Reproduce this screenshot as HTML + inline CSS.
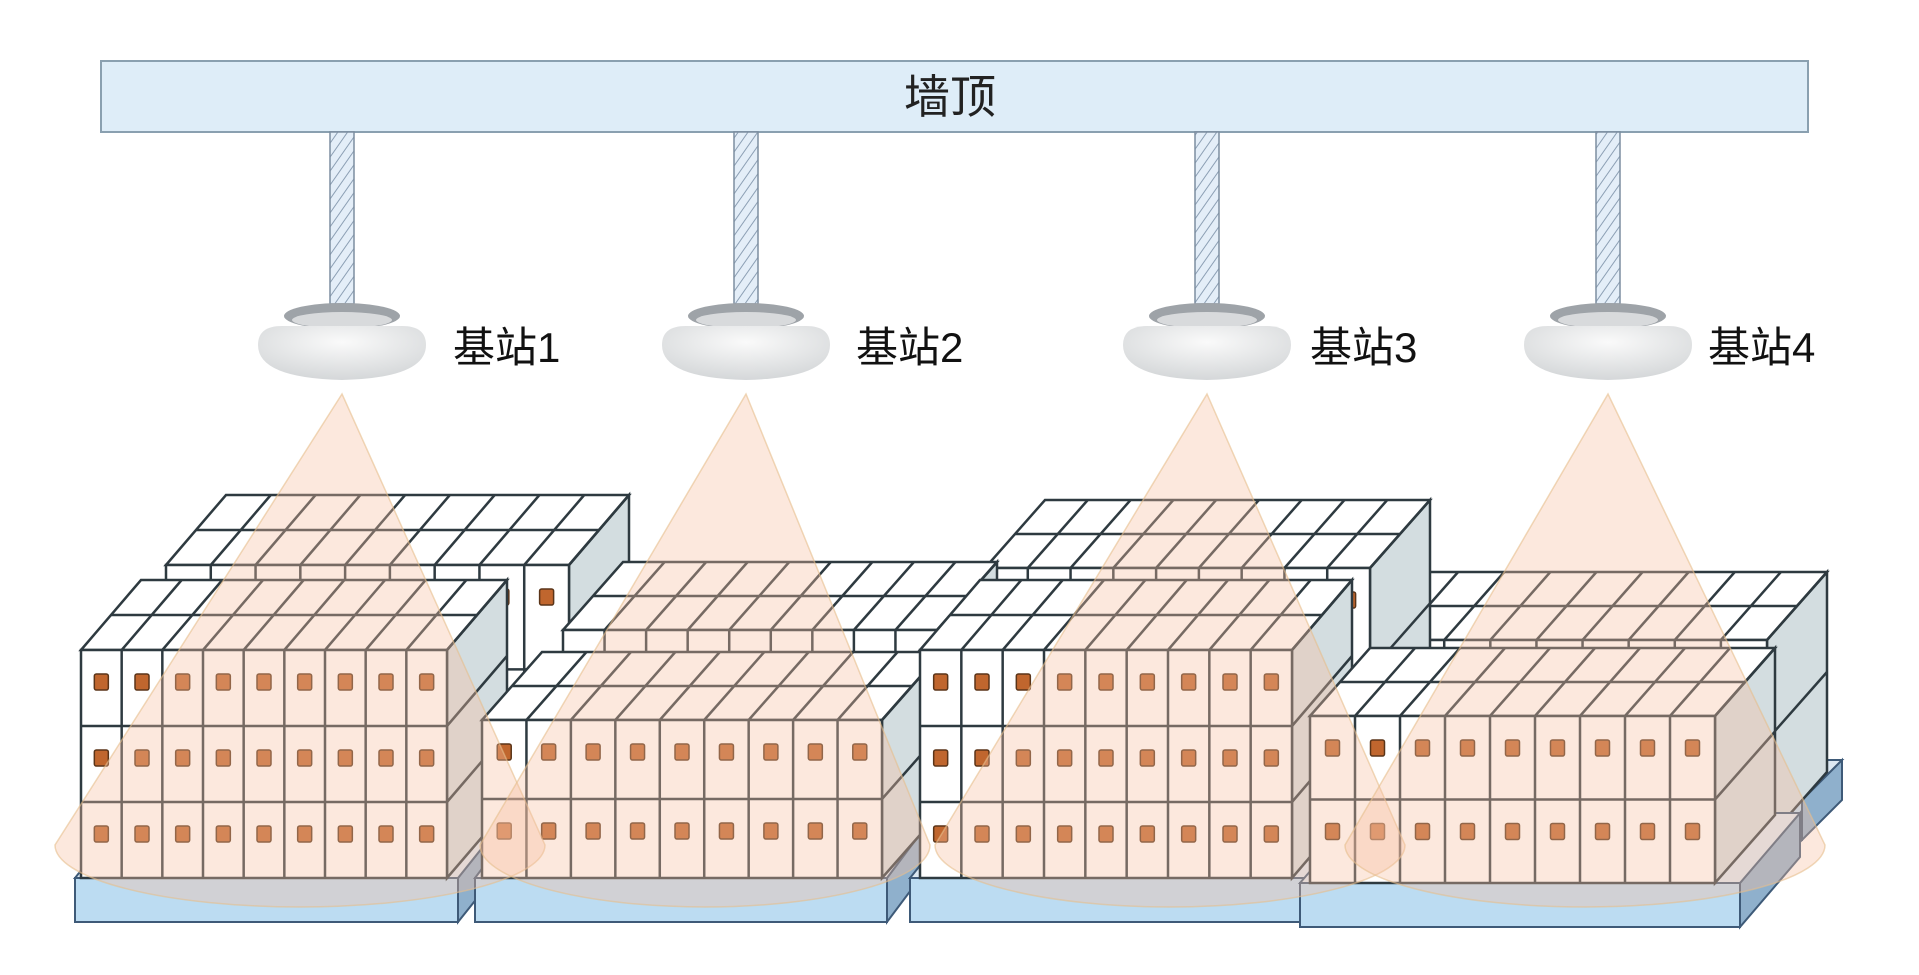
<!DOCTYPE html>
<html><head><meta charset="utf-8"><style>
html,body{margin:0;padding:0;background:#fff;}
svg{display:block;}
</style></head><body>
<svg id="s" width="1919" height="975" xmlns="http://www.w3.org/2000/svg">
<defs>
<pattern id="hatch" width="8" height="8" patternUnits="userSpaceOnUse" patternTransform="rotate(35)">
<rect width="8" height="8" fill="#e4eef8"/><line x1="0" y1="0" x2="0" y2="8" stroke="#8c9fb4" stroke-width="2"/>
</pattern>
<radialGradient id="st" cx="0.5" cy="0.3" r="0.8"><stop offset="0" stop-color="#fafafa"/><stop offset="1" stop-color="#cfd2d4"/></radialGradient>
</defs>
<rect x="101" y="61" width="1728" height="71" fill="#deedf8" stroke="#8aa0b0" stroke-width="2"/>
<text x="950" y="113" font-size="46" text-anchor="middle" font-family="'Liberation Sans','Noto Sans CJK SC',sans-serif" fill="#222">墙顶</text>
<g id="g"></g>
</svg>
<script>
document.querySelector('rect[x="101"]').setAttribute('width','1707');
var g=document.getElementById('g');var h='';
function P(pts,f,s,w){return '<polygon points="'+pts.map(p=>p.join(',')).join(' ')+'" fill="'+f+'" stroke="'+(s||'#2e3a40')+'" stroke-width="'+(w||2.5)+'"/>';}
function L(a,b,c,d,s,w){return '<line x1="'+a+'" y1="'+b+'" x2="'+c+'" y2="'+d+'" stroke="'+(s||'#2e3a40')+'" stroke-width="'+(w||2.5)+'"/>';}
[342,746,1207,1608].forEach(function(c){h+='<rect x="'+(c-12)+'" y="132" width="24" height="172" fill="url(#hatch)" stroke="#7d8ea0" stroke-width="1.5"/>';});
var st=[[342,453,'基站1'],[746,856,'基站2'],[1207,1310,'基站3'],[1608,1708,'基站4']];
st.forEach(function(a){var c=a[0];
h+='<ellipse cx="'+c+'" cy="316" rx="58" ry="13" fill="#9ea3a8"/>';
h+='<ellipse cx="'+c+'" cy="320" rx="50" ry="8" fill="#d8dadc"/>';
h+='<path d="M'+(c-84)+' 345 Q'+(c-84)+' 326 '+(c-60)+' 326 L'+(c+60)+' 326 Q'+(c+84)+' 326 '+(c+84)+' 345 Q'+(c+84)+' 378 '+c+' 380 Q'+(c-84)+' 378 '+(c-84)+' 345Z" fill="url(#st)"/>';
h+='<text x="'+a[1]+'" y="362" font-size="42" font-family="\'Liberation Sans\',\'Noto Sans CJK SC\',sans-serif" fill="#111">'+a[2]+'</text>';});
function pallet(x,y,w,hh,dx,dy){
h+=P([[x+w,y],[x+w+dx,y+dy],[x+w+dx,y+hh+dy],[x+w,y+hh]],'#8fb0cc','#3e5a78',2);
h+=P([[x,y],[x+dx,y+dy],[x+w+dx,y+dy],[x+w,y]],'#dce8f2','#3e5a78',2);
h+='<rect x="'+x+'" y="'+y+'" width="'+w+'" height="'+hh+'" fill="#bcdcf2" stroke="#3e5a78" stroke-width="2"/>';}
function stack(x,y,W,H,n,r,dx,dy){
h+=P([[x+W,y],[x+W+dx,y+dy],[x+W+dx,y+H+dy],[x+W,y+H]],'#d3dde0');
h+=P([[x,y],[x+dx,y+dy],[x+W+dx,y+dy],[x+W,y]],'#fff');
var cw=W/n;
for(var i=1;i<=n;i++)h+=L(x+i*cw,y,x+i*cw+dx,y+dy);
h+=L(x+dx/2,y+dy/2,x+W+dx/2,y+dy/2);
for(var j=1;j<r;j++)h+=L(x+W,y+j*H/r,x+W+dx,y+dy+j*H/r);
h+='<rect x="'+x+'" y="'+y+'" width="'+W+'" height="'+H+'" fill="#fff" stroke="#2e3a40" stroke-width="2.5"/>';
for(var i=1;i<n;i++)h+=L(x+i*cw,y,x+i*cw,y+H);
for(var j=1;j<r;j++)h+=L(x,y+j*H/r,x+W,y+j*H/r);
for(var j=0;j<r;j++)for(var i=0;i<n;i++)h+='<rect x="'+(x+i*cw+cw/2-7)+'" y="'+(y+j*H/r+24)+'" width="14" height="16" rx="2" fill="#c0662e" stroke="#5a3418" stroke-width="1.5"/>';}
pallet(1382,800,420,40,40,-40);
stack(1352,640,415,200,9,2,60,-68);
stack(166,565,403,313,9,3,60,-70);
stack(985,568,385,310,9,3,60,-68);
stack(563,630,374,248,9,2,60,-68);
pallet(75,878,383,44,40,-50);
stack(81,650,366,228,9,3,60,-70);
pallet(475,878,412,44,45,-60);
stack(482,720,400,158,9,2,60,-68);
pallet(910,878,402,44,40,-50);
stack(920,650,372,228,9,3,60,-70);
pallet(1300,883,440,44,60,-70);
stack(1310,716,405,167,9,2,60,-68);
[[342,300,245],[746,705,225],[1207,1170,235],[1608,1585,240]].forEach(function(c){
var a=c[0],cx=c[1],rx=c[2],cy=845,ry=62;
h+='<path d="M'+a+' 394 L'+(cx-rx)+' '+cy+' A'+rx+' '+ry+' 0 0 0 '+(cx+rx)+' '+cy+' Z" fill="rgba(248,190,160,0.36)" stroke="rgba(230,190,140,0.6)" stroke-width="1.5"/>';});
g.innerHTML=h;
</script>
</body></html>
